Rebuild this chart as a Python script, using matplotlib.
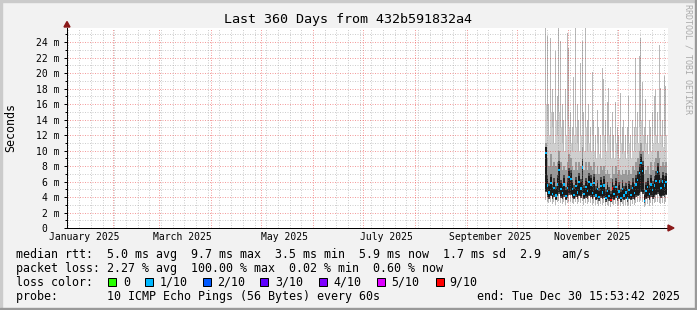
import numpy as np
import pandas as pd
import matplotlib
matplotlib.use("Agg")
import matplotlib.pyplot as plt
import matplotlib.dates as mdates
from matplotlib.patches import Rectangle, Polygon

plt.rcParams['font.family'] = ['DejaVu Sans Mono', 'DejaVu Sans']

# --- data (ms), one column per day from 2025-10-18 ---
day_start = '2025-10-18'

med = [9.7, 5.5, 4.6, 5.8, 4.4, 5.2, 4.2, 5.6, 7.5, 5.0,
       4.5, 5.6, 4.1, 5.2, 6.6, 6.3, 5.0, 4.3, 5.4, 4.6,
       5.9, 5.1, 7.8, 4.4, 5.3, 4.8, 5.9, 5.6, 4.5, 5.8,
       4.2, 5.0, 4.0, 5.4, 4.6, 5.5, 3.9, 4.8, 4.1, 3.6,
       5.1, 4.4, 5.3, 4.0, 4.7, 3.9, 5.0, 4.2, 4.6, 3.8,
       4.9, 4.3, 5.2, 4.5, 5.6, 6.2, 7.1, 8.4, 7.4, 3.5,
       4.8, 5.3, 4.4, 5.6, 4.9, 5.5, 6.1, 7.2, 6.0, 5.2,
       6.0, 5.5, 5.9]

ping_max = [27, 24.8, 16, 24.6, 18, 15, 22.8, 17, 27, 24.1,
            16, 14, 18, 25.2, 23.3, 15, 13, 19.5, 27, 16,
            14, 21.3, 24.1, 15, 27, 14, 16, 13, 20.2, 14,
            12, 15.3, 13, 12, 20.7, 19.2, 14, 16.3, 18.1, 13,
            15, 12, 16.3, 13, 12, 17.5, 13, 14, 12, 13,
            17, 12, 14, 13, 22, 15, 22.2, 24.5, 18.9, 13,
            16.6, 12, 14, 13, 15, 17, 17.8, 15, 23.7, 18.1,
            14, 19.6, 18.4]

ping_p90 = [16, 14, 12, 15, 13, 11, 14, 12, 15, 13,
            11, 10, 12, 14, 13, 11, 10, 12, 13, 11,
            10, 12, 14, 10, 13, 10, 11, 10, 12, 10,
            9, 11, 9.5, 9, 12, 12, 10, 11, 12, 9,
            10, 9, 11, 9.5, 9, 11, 9.5, 10, 9, 9.5,
            11, 9, 10, 10, 13, 11, 13, 14, 12, 10,
            11, 9.5, 10, 10, 11, 12, 12, 11, 14, 12,
            10.5, 12, 12]

ping_p75 = [11, 9, 8, 9.5, 8, 8.5, 8, 8.5, 10, 8.5,
            7.5, 8, 7.5, 8.5, 9.5, 9, 8, 7.5, 8.5, 7.5,
            8.5, 8, 10.5, 7.5, 8.5, 7.5, 8.5, 8, 7.5, 8.5,
            7, 8, 7, 8, 7.5, 8, 7, 7.5, 7, 6.5,
            8, 7, 8, 7, 7.5, 6.8, 7.5, 7, 7.5, 6.8,
            7.5, 7, 8, 7.5, 8.5, 9, 10, 11, 10, 7,
            7.5, 8, 7, 8.5, 7.5, 8.5, 9, 10, 9, 8,
            8.5, 8, 8.5]

ping_q3 = [10.3, 6.8, 5.8, 7.0, 5.6, 6.4, 5.4, 6.8, 8.6, 6.2,
           5.7, 6.8, 5.3, 6.4, 7.8, 7.5, 6.2, 5.5, 6.6, 5.8,
           7.1, 6.3, 8.9, 5.6, 6.5, 6.0, 7.1, 6.8, 5.7, 7.0,
           5.4, 6.2, 5.2, 6.6, 5.8, 6.7, 5.1, 6.0, 5.3, 4.8,
           6.3, 5.6, 6.5, 5.2, 5.9, 5.1, 6.2, 5.4, 5.8, 5.0,
           6.1, 5.5, 6.4, 5.7, 6.8, 7.4, 8.3, 9.6, 8.6, 4.9,
           6.0, 6.5, 5.6, 6.8, 6.1, 6.7, 7.3, 8.4, 7.2, 6.4,
           7.2, 6.7, 7.1]

ping_q1 = [4.6, 4.0, 3.8, 4.1, 3.7, 4.0, 3.6, 4.1, 4.4, 3.9,
           3.7, 4.0, 3.6, 3.9, 4.3, 4.2, 3.9, 3.7, 4.0, 3.8,
           4.1, 3.9, 4.4, 3.7, 3.9, 3.8, 4.1, 4.0, 3.7, 4.0,
           3.6, 3.8, 3.5, 3.9, 3.7, 3.9, 3.4, 3.7, 3.5, 3.3,
           3.8, 3.6, 3.9, 3.5, 3.7, 3.4, 3.8, 3.6, 3.7, 3.4,
           3.7, 3.6, 3.8, 3.6, 4.0, 4.1, 4.3, 4.6, 4.4, 3.2,
           3.7, 3.9, 3.6, 4.0, 3.8, 4.0, 4.2, 4.4, 4.1, 3.9,
           4.1, 4.0, 4.2]

ping_min = [3.6, 3.3, 3.2, 3.4, 3.1, 3.3, 3.0, 3.3, 3.5, 3.2,
            3.1, 3.3, 3.0, 3.2, 3.4, 3.4, 3.2, 3.1, 3.3, 3.1,
            3.3, 3.2, 3.5, 3.0, 3.2, 3.1, 3.3, 3.2, 3.0, 3.2,
            3.0, 3.1, 2.9, 3.1, 3.0, 3.2, 2.8, 3.0, 2.9, 2.7,
            3.1, 3.0, 3.1, 2.9, 3.0, 2.8, 3.1, 2.9, 3.0, 2.8,
            3.0, 2.9, 3.1, 3.0, 3.2, 3.3, 3.4, 3.6, 3.4, 2.7,
            3.0, 3.1, 2.9, 3.2, 3.0, 3.2, 3.3, 3.4, 3.2, 3.1,
            3.2, 3.1, 3.3]

# loss class per day (index into loss_labels)
loss_class = [1] * 39 + [6, 6] + [1] * 32

loss_labels = ['0', '1/10', '2/10', '3/10', '4/10', '5/10', '9/10']
loss_colors = ['#26ff00', '#00b8ff', '#0059ff', '#5e00ff', '#7e00ff', '#dd00ff', '#ff0000']

y_ticks = [0, 2, 4, 6, 8, 10, 12, 14, 16, 18, 20, 22, 24]
y_labels = ['0  ', '2 m', '4 m', '6 m', '8 m', '10 m', '12 m', '14 m', '16 m',
            '18 m', '20 m', '22 m', '24 m']
x_label_dates = ['2025-01-15', '2025-03-15', '2025-05-15', '2025-07-15',
                 '2025-09-15', '2025-11-15']
x_labels = ['January 2025', 'March 2025', 'May 2025', 'July 2025',
            'September 2025', 'November 2025']

title = 'Last 360 Days from 432b591832a4'
legend_rows = [
    'median rtt:  5.0 ms avg  9.7 ms max  3.5 ms min  5.9 ms now  1.7 ms sd  2.9   am/s',
    'packet loss: 2.27 % avg  100.00 % max  0.02 % min  0.60 % now',
    'loss color:',
    'probe:       10 ICMP Echo Pings (56 Bytes) every 60s',
]
end_text = 'end: Tue Dec 30 15:53:42 2025'

# --- figure ---
W, H = 697, 310
fig = plt.figure(figsize=(W / 100, H / 100), dpi=100, facecolor='#F2F2F2')


def fx(x):
    return x / W


def fy(y):
    return 1 - y / H


ax = fig.add_axes([fx(67), fy(228), (668 - 67) / W, (228 - 27.5) / H])
ax.set_facecolor('white')

t0 = mdates.date2num(pd.Timestamp('2025-01-04 15:53:42'))
t1 = mdates.date2num(pd.Timestamp('2025-12-30 15:53:42'))
ax.set_xlim(t0, t1)
ax.set_ylim(0, 25.9)

days = mdates.date2num(pd.date_range(day_start, periods=len(med), freq='D'))
med_a = np.array(med)
lo = np.array(ping_min)
q1 = np.array(ping_q1)

# smoke layers, lightest first
ax.bar(days, np.array(ping_max) - lo, bottom=lo, width=0.6, align='edge',
       color='#B8B8B8', linewidth=0, zorder=2)
ax.bar(days, np.array(ping_p90) - q1, bottom=q1, width=1, align='edge',
       color='#CFCFCF', linewidth=0, zorder=2)
ax.bar(days, np.array(ping_p75) - q1, bottom=q1, width=1, align='edge',
       color='#9A9A9A', linewidth=0, zorder=2)
ax.bar(days, np.array(ping_q3) - q1, bottom=q1, width=1, align='edge',
       color='#4A4A4A', linewidth=0, zorder=2)
ax.bar(days, med_a + 0.6 - q1, bottom=q1 + 0.2, width=1, align='edge',
       color='#1A1A1A', linewidth=0, zorder=2)

# median, coloured by loss
ax.bar(days, 0.3, bottom=med_a - 0.15, width=0.9, align='edge',
       color=[loss_colors[c] for c in loss_class], linewidth=0, zorder=5)

# grid (drawn on top like rrdtool), 1px dotted
major_c = (0.9, 0.15, 0.15, 0.45)
minor_c = (0.5, 0.5, 0.5, 0.38)
dash = (0, (1, 1.5))
month_starts = pd.date_range('2025-02-01', '2025-12-01', freq='MS')
sundays = pd.date_range('2025-01-05', '2025-12-28', freq='7D')
for d in sundays:
    if d not in month_starts:
        ax.axvline(mdates.date2num(d), color=minor_c, lw=0.72, ls=dash,
                   snap=True, zorder=3)
for d in month_starts:
    ax.axvline(mdates.date2num(d), color=major_c, lw=0.72, ls=dash,
               snap=True, zorder=3)
for v in range(1, 26, 2):
    ax.axhline(v, color=minor_c, lw=0.72, ls=dash, snap=True, zorder=3)
for v in y_ticks[1:]:
    ax.axhline(v, color=major_c, lw=0.72, ls=dash, snap=True, zorder=3)

ax.set_yticks(y_ticks)
ax.set_yticklabels(y_labels)
ax.set_yticks(range(1, 26, 2), minor=True)
ax.tick_params(axis='y', which='major', length=2, width=0.72, pad=3.6,
               labelsize=7, direction='out')
ax.tick_params(axis='y', which='minor', length=1.5, width=0.72, direction='out')
ax.set_xticks(mdates.date2num(pd.to_datetime(x_label_dates)))
ax.set_xticklabels(x_labels)
ax.tick_params(axis='x', which='both', length=0, pad=3.2, labelsize=7)

for s in ['top', 'right']:
    ax.spines[s].set_visible(False)
for s in ['left', 'bottom']:
    ax.spines[s].set_color('black')
    ax.spines[s].set_linewidth(0.72)
    ax.spines[s].set_zorder(6)

# axis arrows
arrow_c = '#8B1A1A'
fig.patches.append(Polygon([(fx(668), fy(225)), (fx(674), fy(228)), (fx(668), fy(231))],
                           closed=True, color=arrow_c, transform=fig.transFigure))
fig.patches.append(Polygon([(fx(64), fy(27)), (fx(67), fy(21.5)), (fx(70), fy(27))],
                           closed=True, color=arrow_c, transform=fig.transFigure))

# texts
fig.text(fx(348), fy(19), title, ha='center', va='center', fontsize=9.6)
fig.text(fx(11), fy(127.5), 'Seconds', rotation=90, ha='center', va='center',
         fontsize=8.4)
fig.text(fx(688), fy(4), 'RRDTOOL / TOBI OETIKER', rotation=270, ha='center',
         va='top', fontsize=6, color='#AAAAAA')

row_y = [254.3, 268.3, 282.3, 296.3]
for txt, y in zip(legend_rows, row_y):
    fig.text(fx(16), fy(y), txt, ha='left', va='center', fontsize=8.4)
fig.text(fx(680), fy(row_y[3]), end_text, ha='right', va='center', fontsize=8.4)

box_x = [108.3, 145.3, 203.3, 260, 319.3, 377.3, 436]
text_x = [123.3, 160, 217.3, 275, 333, 391.7, 449]
for lab, col, bx, tx in zip(loss_labels, loss_colors, box_x, text_x):
    fig.patches.append(Rectangle((fx(bx), fy(row_y[2] + 4)), 8 / W, 8 / H,
                                 facecolor=col, edgecolor='black', linewidth=0.72,
                                 transform=fig.transFigure))
    fig.text(fx(tx), fy(row_y[2]), lab, ha='left', va='center', fontsize=8.4)

# frame shading
fig.patches.append(Rectangle((0, fy(2)), 1, 2 / H, color='#CBCBCB', transform=fig.transFigure))
fig.patches.append(Rectangle((0, 0), 2 / W, 1, color='#CBCBCB', transform=fig.transFigure))
fig.patches.append(Rectangle((0, 0), 1, 2 / H, color='#999999', transform=fig.transFigure))
fig.patches.append(Rectangle((fx(695), 0), 2 / W, 1, color='#999999', transform=fig.transFigure))

fig.savefig('out.png', dpi=100, facecolor=fig.get_facecolor())
